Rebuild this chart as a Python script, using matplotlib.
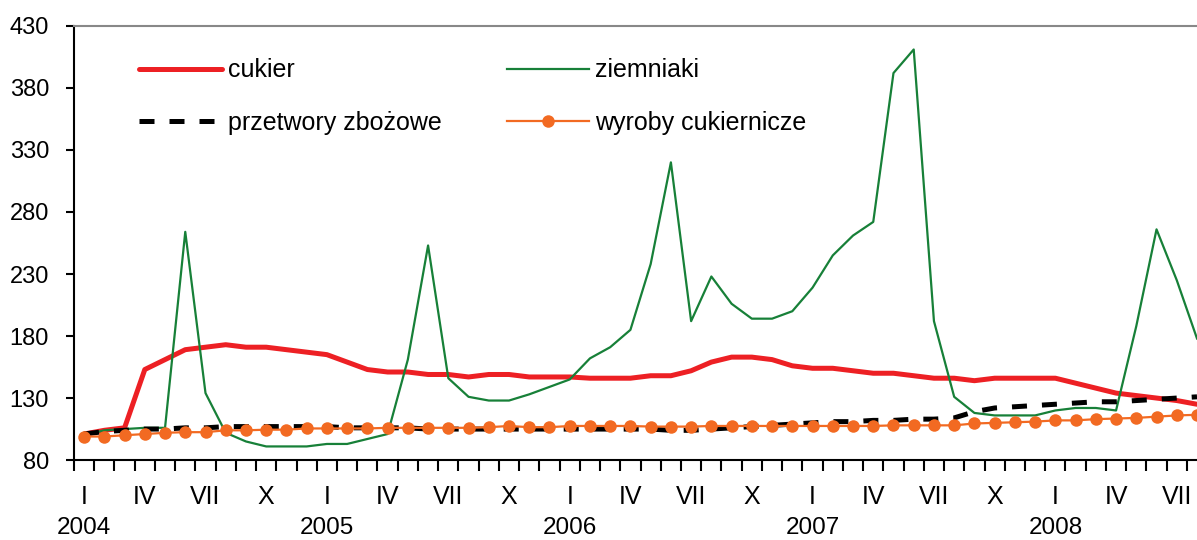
import numpy as np
import matplotlib
matplotlib.use("Agg")
import matplotlib.pyplot as plt
import matplotlib.transforms as mtransforms

plt.rcParams['font.family'] = ['Liberation Sans', 'DejaVu Sans']

# Monthly indices, I 2004 - VIII 2008
cukier = [101, 104, 106, 153, 161, 169, 171, 173, 171, 171, 169, 167,
          165, 159, 153, 151, 151, 149, 149, 147, 149, 149, 147, 147,
          147, 146, 146, 146, 148, 148, 152, 159, 163, 163, 161, 156,
          154, 154, 152, 150, 150, 148, 146, 146, 144, 146, 146, 146,
          146, 142, 138, 134, 132, 130, 128, 125]
ziemniaki = [100, 104, 105, 106, 106, 264, 134, 102, 95, 91, 91, 91,
             93, 93, 97, 101, 161, 253, 146, 131, 128, 128, 133, 139,
             145, 162, 171, 185, 238, 320, 192, 228, 206, 194, 194, 200,
             219, 245, 261, 272, 392, 411, 192, 131, 118, 116, 116, 116,
             120, 122, 122, 120, 188, 266, 225, 178]
przetwory = [101, 103, 104, 105, 105, 106, 106, 107, 107, 107, 107, 107,
             107, 106, 106, 106, 106, 105, 105, 105, 105, 105, 105, 105,
             105, 105, 105, 105, 105, 104, 104, 105, 106, 107, 108, 109,
             110, 111, 111, 112, 112, 113, 113, 114, 119, 122, 123, 124,
             125, 126, 127, 127, 128, 129, 130, 131]
wyroby = [99, 99, 100, 101, 102, 102.5, 102.5, 104, 104, 104.5, 104.5, 105.5,
          105.5, 105.5, 105.5, 106, 106, 106, 106, 106, 106.5, 107.5, 106.5, 106.5,
          107.5, 107.5, 107.5, 107.5, 107, 107, 107, 107.5, 107.5, 107.5, 107.5, 107.5,
          107.5, 107.5, 107.5, 107.5, 108, 108, 108, 108, 109.5, 110, 110.5, 111,
          112, 112, 113, 113.5, 114, 115, 116, 116.5]
month_names = ['I', 'IV', 'VII', 'X']
years = ['2004', '2005', '2006', '2007', '2008']

x = np.arange(len(cukier))

fig = plt.figure(figsize=(11.97, 5.4), dpi=100)
ax = fig.add_axes([0.0618, 0.148, 1 - 0.0618, 0.804])

l1, = ax.plot(x, cukier, color='#ED2024', lw=3.6, solid_capstyle='round', label='cukier')
l2, = ax.plot(x, ziemniaki, color='#178038', lw=1.6, label='ziemniaki')
l3, = ax.plot(x, przetwory, color='black', lw=3.6, linestyle=(0, (3, 3)), label='przetwory zbożowe')
l4, = ax.plot(x, wyroby, color='#F26A22', lw=1.6, marker='o', markersize=9,
              markeredgewidth=0, label='wyroby cukiernicze')

ax.set_yticks(np.arange(80, 431, 50))
ax.tick_params(axis='y', direction='out', length=6, width=1.5, labelsize=17, pad=12)

# month ticks between categories, labels centered on months
ax.set_xticks(np.arange(-0.5, 56, 1), minor=True)
ax.set_xticks([])
ax.tick_params(axis='x', which='minor', direction='out', length=8, width=1.5)
ax.set_xlim(-0.5, 55.0)
ax.set_ylim(80, 430)

trans = mtransforms.blended_transform_factory(ax.transData, ax.transAxes)
for i in range(0, len(x), 3):
    ax.text(i, -0.085, month_names[(i // 3) % 4], transform=trans,
            ha='center', va='center', fontsize=18)
for k, yr in enumerate(years):
    ax.text(12 * k, -0.157, yr, transform=trans, ha='center', va='center', fontsize=17.5)

ax.spines['right'].set_visible(False)
ax.spines['top'].set_color('#888888')
ax.spines['top'].set_linewidth(1.5)
ax.spines['left'].set_linewidth(1.5)
ax.spines['bottom'].set_linewidth(1.5)

ax.legend(handles=[l1, l3, l2, l4], ncol=2, frameon=False, fontsize=18,
          loc='upper left', bbox_to_anchor=(0.058, 0.925), borderpad=0,
          handlelength=3.3, handletextpad=0.25, columnspacing=2.6, labelspacing=1.15,
          borderaxespad=0)

fig.savefig('out.png', dpi=100)
